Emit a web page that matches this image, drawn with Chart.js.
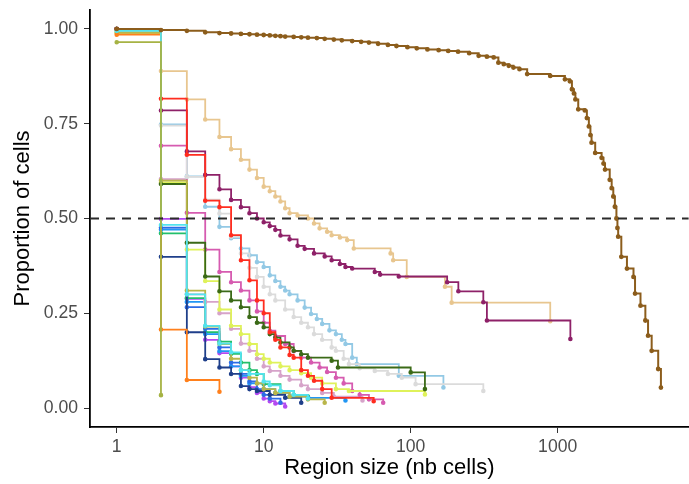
<!DOCTYPE html>
<html>
<head>
<meta charset="utf-8">
<script src="https://cdn.jsdelivr.net/npm/chart.js@4"></script>
<style>
  html, body { margin: 0; padding: 0; background: #ffffff; overflow: hidden; }
  #plot { display: block; }
</style>
</head>
<body>
<canvas id="plot" width="692" height="484"></canvas>
<script>
// Region size (x) vs proportion of cells in regions at least that size (y), one curve per sample
var xTicks = [1, 10, 100, 1000];
var yTicks = [0, 0.25, 0.5, 0.75, 1];

var brown = [[1, 1.0], [2, 0.997], [3, 0.995], [4, 0.991], [5, 0.989], [6, 0.988], [7, 0.987], [8, 0.986], [9, 0.985],
  [10, 0.984], [11, 0.983], [12, 0.982], [13, 0.981], [14, 0.98], [16, 0.979], [18, 0.978], [20, 0.977], [23, 0.976],
  [26, 0.974], [30, 0.972], [34, 0.97], [40, 0.968], [46, 0.966], [52, 0.964], [60, 0.961], [70, 0.958], [80, 0.955],
  [95, 0.952], [110, 0.949], [130, 0.946], [155, 0.944], [180, 0.942], [210, 0.94], [250, 0.936], [290, 0.929],
  [330, 0.927], [367, 0.925], [395, 0.911], [430, 0.907], [465, 0.903], [500, 0.898], [550, 0.894], [620, 0.881],
  [890, 0.876], [1120, 0.867], [1210, 0.862], [1250, 0.841], [1290, 0.83], [1320, 0.814], [1380, 0.788], [1530, 0.785],
  [1580, 0.765], [1630, 0.743], [1670, 0.72], [1700, 0.7], [1800, 0.673], [1990, 0.66], [2050, 0.645], [2100, 0.629],
  [2260, 0.602], [2330, 0.58], [2390, 0.558], [2450, 0.531], [2510, 0.5], [2550, 0.475], [2580, 0.452], [2710, 0.399],
  [2960, 0.368], [3280, 0.346], [3360, 0.302], [3660, 0.27], [3950, 0.231], [4120, 0.191], [4360, 0.151],
  [4830, 0.103], [5040, 0.054]];
var tan = [[1, 0.995], [2, 0.889], [3, 0.814], [4, 0.761], [5, 0.715], [6, 0.683], [7, 0.655], [8, 0.629], [9, 0.607],
  [10, 0.584], [11, 0.572], [12, 0.558], [13, 0.545], [14, 0.527], [15, 0.514], [17, 0.508], [20, 0.5], [22, 0.487],
  [24, 0.474], [27, 0.465], [29, 0.456], [33, 0.45], [37, 0.443], [41, 0.421], [73, 0.408], [76, 0.39], [94, 0.346],
  [171, 0.32], [190, 0.278], [890, 0.229]];
var plum = [[1, 1.0], [2, 0.785], [3, 0.677], [4, 0.615], [5, 0.577], [6, 0.549], [7, 0.53], [8, 0.514], [9, 0.5],
  [10, 0.49], [11, 0.48], [12, 0.47], [13, 0.455], [15, 0.445], [17, 0.428], [19, 0.42], [22, 0.408], [26, 0.4],
  [29, 0.39], [33, 0.38], [36, 0.372], [40, 0.368], [57, 0.359], [62, 0.352], [83, 0.347], [177, 0.332], [211, 0.308],
  [312, 0.279], [330, 0.231], [1220, 0.182]];
var red = [[1, 1.0], [2, 0.816], [3, 0.668], [4, 0.547], [5, 0.53], [6, 0.456], [7, 0.39], [8, 0.337], [9, 0.284],
  [10, 0.25], [11, 0.2], [12, 0.18], [13, 0.16], [15, 0.14], [16, 0.133], [18, 0.1], [20, 0.085], [22, 0.072],
  [25, 0.05], [29, 0.027], [56, 0.018]];
var skyblue = [[1, 1.0], [2, 0.748], [3, 0.611], [4, 0.531], [5, 0.478], [6, 0.448], [7, 0.421], [8, 0.403], [9, 0.385],
  [10, 0.372], [11, 0.35], [12, 0.335], [13, 0.32], [14, 0.31], [15, 0.3], [17, 0.284], [19, 0.265], [21, 0.248],
  [23, 0.235], [25, 0.222], [28, 0.205], [31, 0.195], [34, 0.18], [36, 0.169], [40, 0.133], [43, 0.116], [83, 0.085],
  [167, 0.054]];
var grey = [[1, 1.0], [2, 0.745], [3, 0.61], [4, 0.55], [5, 0.513], [6, 0.452], [7, 0.408], [8, 0.37], [9, 0.346],
  [10, 0.32], [11, 0.3], [12, 0.284], [14, 0.26], [16, 0.24], [18, 0.225], [20, 0.213], [22, 0.195], [25, 0.18],
  [29, 0.16], [31, 0.151], [35, 0.13], [38, 0.116], [45, 0.105], [57, 0.098], [70, 0.09], [87, 0.08], [108, 0.063],
  [312, 0.045]];
var pink = [[1, 1.0], [2, 0.692], [3, 0.515], [4, 0.418], [5, 0.359], [6, 0.332], [7, 0.31], [8, 0.284], [9, 0.255],
  [10, 0.225], [11, 0.204], [12, 0.19], [14, 0.169], [16, 0.15], [18, 0.133], [21, 0.12], [24, 0.107], [27, 0.095],
  [31, 0.08], [35, 0.065], [40, 0.045], [45, 0.035], [52, 0.023], [65, 0.014]];
var darkgreen = [[1, 1.0], [2, 0.591], [3, 0.436], [4, 0.347], [5, 0.308], [6, 0.284], [7, 0.266], [8, 0.24], [9, 0.225],
  [10, 0.213], [11, 0.195], [12, 0.186], [13, 0.173], [15, 0.16], [16, 0.151], [18, 0.142], [20, 0.133], [29, 0.125],
  [32, 0.107], [100, 0.094], [125, 0.05]];
var lime = [[1, 0.99], [2, 0.595], [3, 0.418], [4, 0.335], [5, 0.26], [6, 0.217], [7, 0.195], [8, 0.169], [9, 0.142],
  [10, 0.13], [11, 0.12], [13, 0.11], [15, 0.1], [18, 0.092], [21, 0.08], [25, 0.065], [31, 0.05], [38, 0.045],
  [125, 0.036]];
var mauve = [[1, 1.0], [2, 0.604], [3, 0.3], [4, 0.28], [5, 0.25], [6, 0.209], [7, 0.17], [8, 0.151], [9, 0.13],
  [10, 0.11], [11, 0.098], [13, 0.085], [15, 0.075], [18, 0.06], [20, 0.05], [25, 0.04], [30, 0.03], [47, 0.02]];
var khaki = [[1, 0.99], [2, 0.6], [3, 0.31], [4, 0.215], [5, 0.169], [6, 0.13], [7, 0.1], [8, 0.08], [9, 0.065],
  [10, 0.05], [12, 0.04], [15, 0.03], [20, 0.023], [26, 0.014]];
var navy = [[1, 1.0], [2, 0.399], [3, 0.2], [4, 0.129], [5, 0.107], [6, 0.09], [7, 0.058], [8, 0.05], [9, 0.045],
  [11, 0.035], [14, 0.027], [18, 0.014]];
var blue = [[1, 1.0], [2, 0.476], [3, 0.266], [4, 0.209], [5, 0.16], [6, 0.12], [7, 0.09], [8, 0.07], [9, 0.05],
  [10, 0.035], [11, 0.025], [13, 0.014]];
var dodger = [[1, 1.0], [2, 0.471], [3, 0.28], [4, 0.195], [5, 0.15], [6, 0.11], [7, 0.085], [8, 0.065], [10, 0.05],
  [12, 0.04], [15, 0.03], [20, 0.027], [36, 0.02]];
var cyan = [[1, 0.995], [2, 0.483], [3, 0.3], [4, 0.217], [5, 0.17], [6, 0.147], [7, 0.1], [8, 0.09], [10, 0.07],
  [11, 0.06], [13, 0.045], [16, 0.035], [20, 0.025]];
var green = [[1, 1.0], [2, 0.461], [3, 0.29], [4, 0.2], [5, 0.175], [6, 0.143], [7, 0.12], [8, 0.1], [9, 0.09],
  [10, 0.063], [13, 0.045], [16, 0.035], [20, 0.03]];
var violet = [[1, 1.0], [2, 0.499], [3, 0.288], [4, 0.18], [5, 0.145], [6, 0.11], [7, 0.08], [8, 0.055], [9, 0.04],
  [10, 0.025], [11, 0.018], [12, 0.012], [14, 0.004]];
var orange = [[1, 0.985], [2, 0.207], [3, 0.074], [5, 0.043]];
var olive = [[1, 0.965], [2, 0.034]];

// drawing order: first in the list ends up on top
var series = [
  [olive, '#a6b344'], [brown, '#8c5d1c'], [cyan, '#52e3ee'], [orange, '#ff801c'], [khaki, '#b9b64a'],
  [red, '#ff2d1f'], [plum, '#8e2168'], [tan, '#e8c68f'], [darkgreen, '#3b6a17'], [lime, '#dff25a'],
  [grey, '#dbdbdb'], [skyblue, '#93c9e5'], [pink, '#d65bb0'], [mauve, '#d6a3c9'], [navy, '#1f3f8a'],
  [blue, '#2c6ce6'], [dodger, '#2196f3'], [green, '#22bf6b'], [violet, '#b44af0']
];

var datasets = series.map(function (s) {
  return {
    data: s[0].map(function (p) { return { x: p[0], y: p[1] }; }),
    borderColor: s[1],
    backgroundColor: s[1],
    borderWidth: s[0] === brown ? 2 : 1.8,
    pointRadius: 1.4,
    pointHoverRadius: 0,
    stepped: true,
    fill: false
  };
});

// dashed reference line at one half
var halfLine = {
  id: 'halfLine',
  afterDatasetsDraw: function (chart) {
    var c = chart.ctx, a = chart.chartArea;
    var y = chart.scales.y.getPixelForValue(0.5);
    c.save();
    c.strokeStyle = '#2b2b2b';
    c.lineWidth = 2.2;
    c.setLineDash([9, 7]);
    c.beginPath();
    c.moveTo(a.left, y);
    c.lineTo(a.right, y);
    c.stroke();
    c.restore();
  }
};

var fontFamily = '"Liberation Sans", Arial, Helvetica, sans-serif';
var tickFont = { family: fontFamily, size: 17.6 };
var titleFont = { family: fontFamily, size: 22 };

var ctx = document.getElementById('plot').getContext('2d');
var chart = new Chart(ctx, {
  type: 'line',
  data: { datasets: datasets },
  plugins: [halfLine],
  options: {
    responsive: false,
    animation: false,
    layout: { padding: { top: 10, right: 0, left: 0, bottom: 0 } },
    plugins: { legend: { display: false }, tooltip: { enabled: false } },
    scales: {
      x: {
        type: 'logarithmic',
        min: 0.658,
        max: 7776,
        border: { display: true, color: '#000000', width: 1.8 },
        grid: { display: true, drawOnChartArea: false, drawTicks: true, tickLength: 6, color: '#333333' },
        ticks: {
          color: '#4d4d4d', font: tickFont, padding: 4, maxRotation: 0, autoSkip: false,
          callback: function (v) { return String(v); }
        },
        afterBuildTicks: function (s) { s.ticks = xTicks.map(function (v) { return { value: v }; }); },
        afterFit: function (s) { s.height = 57; s.paddingLeft = 0; s.paddingRight = 0; },
        title: { display: true, text: 'Region size (nb cells)', color: '#000000', font: titleFont, padding: { top: 0, bottom: 3 } }
      },
      y: {
        min: -0.05,
        max: 1.05,
        border: { display: true, color: '#000000', width: 1.8 },
        grid: { display: true, drawOnChartArea: false, drawTicks: true, tickLength: 6, color: '#333333' },
        ticks: {
          color: '#4d4d4d', font: tickFont, padding: 6,
          callback: function (v) { return Number(v).toFixed(2); }
        },
        afterBuildTicks: function (s) { s.ticks = yTicks.map(function (v) { return { value: v }; }); },
        afterFit: function (s) { s.width = 90; s.paddingTop = 0; s.paddingBottom = 0; },
        title: { display: true, text: 'Proportion of cells', color: '#000000', font: titleFont, padding: { top: 10, bottom: 0 } }
      }
    }
  }
});
</script>
</body>
</html>
